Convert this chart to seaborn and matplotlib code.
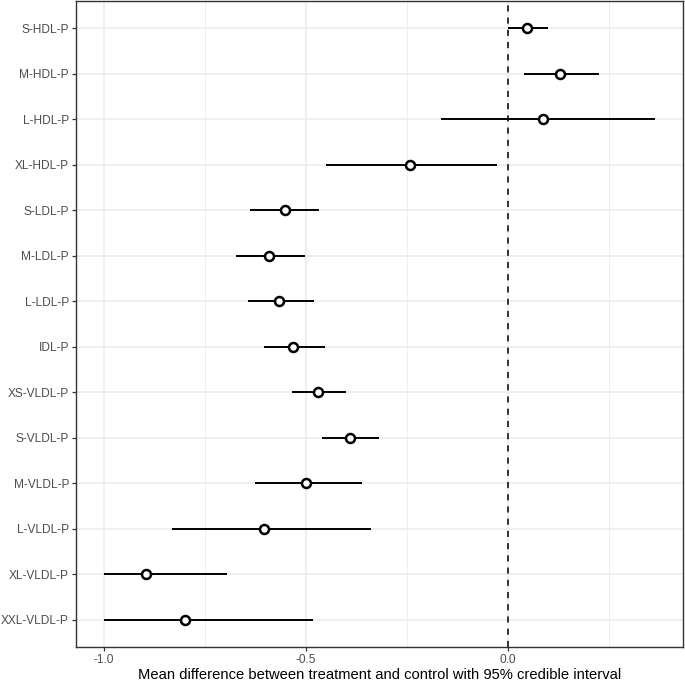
import matplotlib
matplotlib.use("Agg")
import matplotlib.pyplot as plt
import seaborn as sns
import pandas as pd
import numpy as np
from matplotlib.ticker import MultipleLocator, FixedLocator

categories = ["S-HDL-P", "M-HDL-P", "L-HDL-P", "XL-HDL-P", "S-LDL-P", "M-LDL-P",
              "L-LDL-P", "IDL-P", "XS-VLDL-P", "S-VLDL-P", "M-VLDL-P", "L-VLDL-P",
              "XL-VLDL-P", "XXL-VLDL-P"]
mean_diff = [0.048, 0.128, 0.086, -0.242, -0.551, -0.590, -0.565, -0.531,
             -0.469, -0.390, -0.499, -0.603, -0.895, -0.798]
lower = [0.001, 0.040, -0.165, -0.449, -0.637, -0.672, -0.644, -0.602,
         -0.533, -0.459, -0.625, -0.831, -1.000, -1.000]
upper = [0.100, 0.225, 0.365, -0.027, -0.467, -0.501, -0.479, -0.452,
         -0.400, -0.319, -0.360, -0.338, -0.695, -0.482]
x_ticks = [-1.0, -0.5, 0.0]
x_tick_labels = ["-1.0", "-0.5", "0.0"]
x_label = "Mean difference between treatment and control with 95% credible interval"

df = pd.DataFrame({"category": categories, "mean": mean_diff,
                   "lower": lower, "upper": upper})
n = len(categories)
df["pos"] = [n - i for i in range(n)]  # top row first

sns.set_theme(style="white")
plt.rcParams["font.family"] = ["Liberation Sans", "DejaVu Sans"]

fig = plt.figure(figsize=(6.85, 6.82), dpi=100)
ax = fig.add_axes([76 / 685, 1 - 647 / 682, (683 - 76) / 685, (647 - 1) / 682])

# grid
ax.set_axisbelow(True)
ax.xaxis.set_major_locator(FixedLocator(x_ticks))
ax.xaxis.set_minor_locator(MultipleLocator(0.25))
ax.set_yticks(df["pos"])
ax.set_yticklabels(df["category"])
ax.grid(which="major", axis="both", color="#EBEBEB", linewidth=1.1)
ax.grid(which="minor", axis="x", color="#EBEBEB", linewidth=0.6)

# dashed zero line
ax.axvline(0, color="black", linestyle=(0, (4, 4)), linewidth=1.1, zorder=2)

# intervals
ax.hlines(df["pos"], df["lower"], df["upper"], color="black", linewidth=1.4, zorder=3)

# points
sns.scatterplot(data=df, x="mean", y="pos", ax=ax, marker="o", s=42,
                facecolor="white", edgecolor="black", linewidth=1.8, zorder=4,
                legend=False)

xmin, xmax = -1.0, max(upper)
pad = 0.05 * (xmax - xmin)
ax.set_xlim(xmin - pad, xmax + pad)
ax.set_ylim(0.4, n + 0.6)
ax.set_xticklabels(x_tick_labels)

for s in ax.spines.values():
    s.set_visible(True)
    s.set_color("#333333")
    s.set_linewidth(1.0)

ax.tick_params(axis="both", which="major", length=3, width=0.9, color="#333333",
               labelcolor="#4D4D4D", labelsize=8.6, pad=2, left=True, bottom=True)
ax.tick_params(axis="both", which="minor", length=0)

ax.set_xlabel(x_label, fontsize=10.6, color="black", labelpad=1.5)
ax.set_ylabel("")

fig.savefig("out.png", dpi=100)
